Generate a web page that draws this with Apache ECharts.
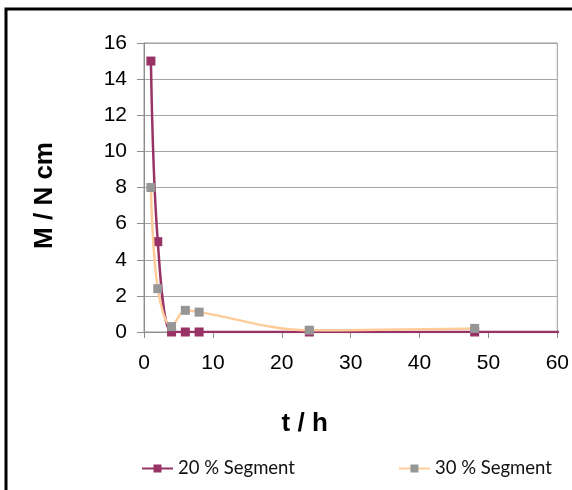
<!DOCTYPE html>
<html>
<head>
<meta charset="utf-8">
<script src="https://cdn.jsdelivr.net/npm/echarts@6/dist/echarts.min.js"></script>
<style>
html,body{margin:0;padding:0;background:#fff;}
#chart{width:572px;height:490px;}
</style>
</head>
<body>
<div id="chart"></div>
<script>
const seriesNames = ['20 % Segment', '30 % Segment'];
const tHours20 = [1, 2, 4, 6, 8, 24, 48, 72];
const values20 = [15, 5, 0, 0, 0, 0, 0, 0];
const tHours30 = [1, 2, 4, 6, 8, 24, 48];
const values30 = [8, 2.4, 0.3, 1.2, 1.1, 0.1, 0.2];

const pairs = (xs, ys) => xs.map((x, i) => [x, ys[i]]);

const chart = echarts.init(document.getElementById('chart'));
chart.setOption({
  animation: false,
  backgroundColor: '#fff',
  graphic: [{
    type: 'rect',
    shape: { x: 6, y: 9, width: 800, height: 800 },
    style: { fill: 'none', stroke: '#000', lineWidth: 3 },
    silent: true, z: 100
  }],
  grid: {
    left: 144, right: 12, top: 43, bottom: 158,
    show: true, borderColor: '#999', borderWidth: 1, backgroundColor: 'transparent'
  },
  legend: {
    data: seriesNames,
    left: 141, top: 459, padding: 0,
    itemWidth: 31, itemHeight: 10,
    itemGap: 103,
    textStyle: { fontFamily: 'Lato', fontSize: 18.5, color: '#111' }
  },
  xAxis: {
    type: 'value', min: 0, max: 60, interval: 10,
    name: 't / h', nameLocation: 'middle', nameGap: 79,
    nameTextStyle: { fontFamily: 'Liberation Sans', fontWeight: 'bold', fontSize: 26, color: '#000', padding: [0, 92, 0, 0] },
    axisLine: { show: true, lineStyle: { color: '#8c8c8c', width: 1 } },
    axisTick: { show: true, length: 6, lineStyle: { color: '#8c8c8c' } },
    axisLabel: { fontFamily: 'Liberation Sans', fontSize: 21, color: '#000', margin: 21 },
    splitLine: { show: false }
  },
  yAxis: {
    type: 'value', min: 0, max: 16, interval: 2,
    name: 'M / N cm', nameLocation: 'middle', nameGap: 86, nameRotate: 90,
    nameTextStyle: { fontFamily: 'Liberation Sans', fontWeight: 'bold', fontSize: 26, color: '#000', padding: [0, 16, 0, 0] },
    axisLine: { show: true, lineStyle: { color: '#8c8c8c', width: 1 } },
    axisTick: { show: true, length: 7, lineStyle: { color: '#8c8c8c' } },
    axisLabel: { fontFamily: 'Liberation Sans', fontSize: 21, color: '#000', margin: 17 },
    splitLine: { show: true, lineStyle: { color: '#a6a6a6', width: 1 } }
  },
  series: [
    {
      name: seriesNames[0], type: 'line', smooth: 0.35, clip: true,
      data: pairs(tHours20, values20),
      symbol: 'rect', symbolSize: 9,
      lineStyle: { color: '#993366', width: 2.5 },
      itemStyle: { color: '#993366', borderWidth: 0 },
      z: 2
    },
    {
      name: seriesNames[1], type: 'line', smooth: 0.35, clip: true,
      data: pairs(tHours30, values30),
      symbol: 'rect', symbolSize: 9,
      lineStyle: { color: '#FFCC99', width: 2.5 },
      itemStyle: { color: '#969696', borderWidth: 0 },
      z: 3
    }
  ]
});
</script>
</body>
</html>
